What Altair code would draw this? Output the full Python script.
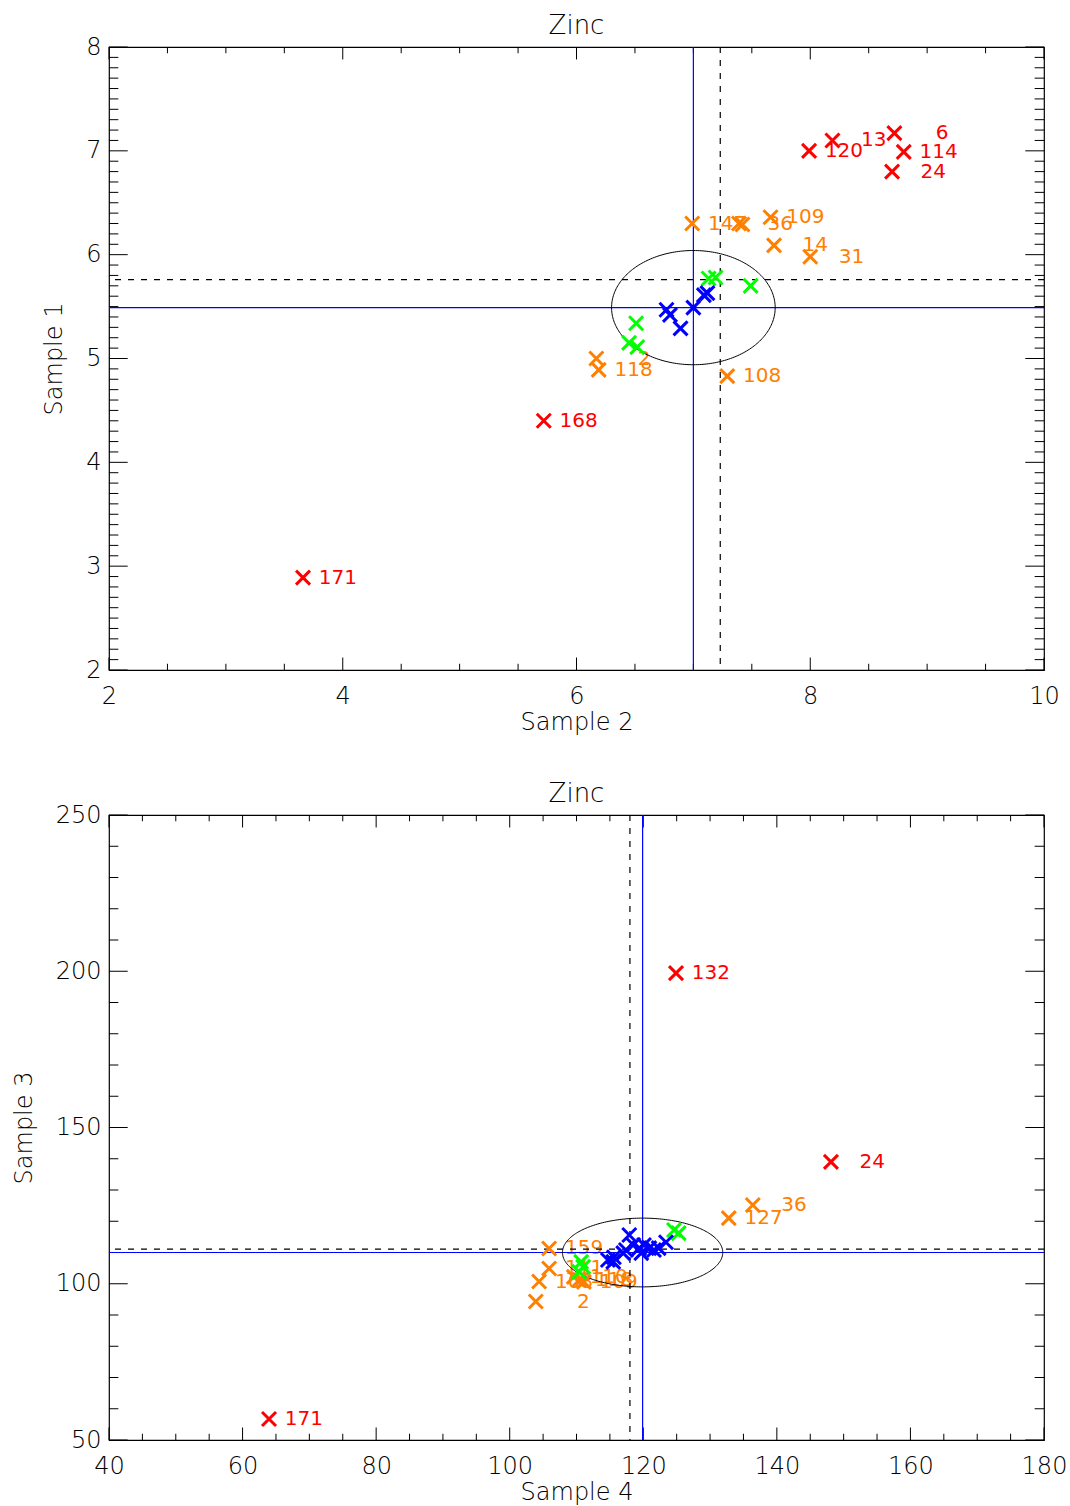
import altair as alt
import numpy as np
import pandas as pd

FONT = "DejaVu Sans"
WEIGHT = 200
GROUPS = ["orange", "green", "blue", "red"]
GROUP_COLORS = ["#ff8000", "#00ff00", "#0000ff", "#ff0000"]
GROUP_WIDTHS = [3.0, 3.0, 4.0, 3.0]

# ---------------- upper panel: Sample 2 (x) against Sample 1 (y) ----------------
up_red_x = [3.66, 5.72, 7.99, 8.19, 8.72, 8.80, 8.70]
up_red_y = [2.89, 4.40, 7.00, 7.10, 7.17, 6.99, 6.80]
up_red_lab = ["171", "168", "120", "13", "6", "114", "24"]

up_orange_x = [6.99, 7.39, 7.42, 7.66, 7.69, 8.00, 6.17, 6.19, 7.29]
up_orange_y = [6.30, 6.30, 6.29, 6.36, 6.09, 5.98, 5.00, 4.89, 4.83]
up_orange_lab = ["147", "36", "", "109", "14", "31", "2", "118", "108"]

up_green_x = [7.13, 7.19, 7.49, 6.51, 6.45, 6.52]
up_green_y = [5.77, 5.78, 5.70, 5.34, 5.15, 5.11]

up_blue_x = [6.77, 6.80, 6.89, 7.00, 7.09, 7.12]
up_blue_y = [5.47, 5.42, 5.29, 5.49, 5.61, 5.63]

up_center = (7.00, 5.49)      # solid blue cross-hair and ellipse centre
up_radii = (0.70, 0.55)
up_ref = (7.23, 5.76)         # dashed reference lines

up_xdom, up_ydom = [2, 10], [2, 8]
up_xmajor, up_xminor = [2, 4, 6, 8, 10], [2.5, 3, 3.5, 4.5, 5, 5.5, 6.5, 7, 7.5, 8.5, 9, 9.5]
up_ymajor = [2, 3, 4, 5, 6, 7, 8]
up_yminor = [round(2 + 0.1 * i, 1) for i in range(61) if i % 10]

# ---------------- lower panel: Sample 4 (x) against Sample 3 (y) ----------------
lo_red_x = [63.96, 124.9, 148.1]
lo_red_y = [56.7, 199.4, 139.0]
lo_red_lab = ["171", "132", "24"]

lo_orange_x = [105.9, 105.9, 104.4, 103.9, 109.6, 110.4, 111.1, 132.8, 136.4]
lo_orange_y = [111.3, 104.9, 100.7, 94.3, 102.2, 101.2, 100.6, 121.0, 125.2]
lo_orange_lab = ["159", "111", "108", "2", "110", "118", "109", "127", "36"]

lo_green_x = [110.7, 111.0, 110.4, 124.6, 125.3]
lo_green_y = [107.0, 105.4, 103.8, 117.2, 116.2]

lo_blue_x = [117.9, 118.5, 117.4, 117.0, 115.6, 114.7, 115.5, 119.4, 120.1, 120.9, 121.6, 122.3, 123.4, 119.7]
lo_blue_y = [115.6, 112.4, 110.8, 109.8, 108.5, 107.6, 107.0, 111.4, 112.4, 111.4, 110.8, 111.4, 113.3, 109.8]

lo_center = (119.9, 110.0)
lo_radii = (12.0, 11.0)
lo_ref = (118.0, 111.1)

lo_xdom, lo_ydom = [40, 180], [50, 250]
lo_xmajor = list(range(40, 181, 20))
lo_xminor = [v for v in range(40, 181, 5) if v % 20]
lo_ymajor = [50, 100, 150, 200, 250]
lo_yminor = [v for v in range(50, 251, 10) if v % 50]


def points_frame(red, orange, green, blue):
    rows = []
    for grp, (xs, ys, labs) in zip(GROUPS, [orange, green, blue, red]):
        if labs is None:
            labs = [""] * len(xs)
        for x, y, lab in zip(xs, ys, labs):
            rows.append({"x": x, "y": y, "grp": grp, "lab": lab})
    return pd.DataFrame(rows)


def ellipse_frame(center, radii, n=241):
    t = np.linspace(0, 2 * np.pi, n)
    return pd.DataFrame({
        "x": center[0] + radii[0] * np.cos(t),
        "y": center[1] + radii[1] * np.sin(t),
        "k": np.arange(n),
    })


def panel(df, xdom, ydom, xmajor, xminor, ymajor, yminor, xtitle, ytitle,
          center, radii, ref, W, H):
    xsc = alt.Scale(domain=xdom, nice=False, zero=False)
    ysc = alt.Scale(domain=ydom, nice=False, zero=False)
    color = alt.Color("grp:N", scale=alt.Scale(domain=GROUPS, range=GROUP_COLORS), legend=None)

    x_axis = alt.Axis(values=xmajor, format="d", ticks=False, domain=False, grid=False,
                      title=xtitle, labelFont=FONT, labelFontSize=24, labelFontWeight=WEIGHT,
                      labelColor="black", labelPadding=14, labelOverlap=False, labelFlush=False,
                      titleFont=FONT, titleFontSize=24, titleFontWeight=WEIGHT,
                      titleColor="black", titlePadding=2)
    y_axis = alt.Axis(values=ymajor, format="d", ticks=False, domain=False, grid=False,
                      title=ytitle, labelFont=FONT, labelFontSize=24, labelFontWeight=WEIGHT,
                      labelColor="black", labelPadding=8, labelOverlap=False, labelFlush=False,
                      titleFont=FONT, titleFontSize=24, titleFontWeight=WEIGHT,
                      titleColor="black", titlePadding=19)

    base = alt.Chart(df)
    labels = base.mark_text(align="right", baseline="middle", dx=54, font=FONT,
                            fontSize=20).encode(
        x=alt.X("x:Q", scale=xsc, axis=x_axis),
        y=alt.Y("y:Q", scale=ysc, axis=y_axis),
        text="lab:N",
        color=color,
    )
    marks = base.mark_point(shape="M-1,-1L1,1M-1,1L1,-1", filled=False, size=196, opacity=1).encode(
        x=alt.X("x:Q", scale=xsc),
        y=alt.Y("y:Q", scale=ysc),
        color=color,
        strokeWidth=alt.StrokeWidth("grp:N", scale=alt.Scale(domain=GROUPS, range=GROUP_WIDTHS),
                                    legend=None),
    )

    ell = alt.Chart(ellipse_frame(center, radii)).mark_line(color="black", strokeWidth=1).encode(
        x=alt.X("x:Q", scale=xsc), y=alt.Y("y:Q", scale=ysc), order="k:Q")

    vline = alt.Chart(pd.DataFrame({"v": [center[0]]})).mark_rule(color="#0000ff", strokeWidth=1.2).encode(
        x=alt.X("v:Q", scale=xsc))
    hline = alt.Chart(pd.DataFrame({"v": [center[1]]})).mark_rule(color="#0000ff", strokeWidth=1.2).encode(
        y=alt.Y("v:Q", scale=ysc))
    vdash = alt.Chart(pd.DataFrame({"v": [ref[0]]})).mark_rule(color="black", strokeWidth=1.2,
                                                               strokeDash=[6, 7]).encode(
        x=alt.X("v:Q", scale=xsc))
    hdash = alt.Chart(pd.DataFrame({"v": [ref[1]]})).mark_rule(color="black", strokeWidth=1.2,
                                                               strokeDash=[6, 7]).encode(
        y=alt.Y("v:Q", scale=ysc))

    # inward ticks on all four sides (IDL-style box axes)
    xlen_major, xlen_minor = 0.02 * H, 0.01 * H
    ylen_major, ylen_minor = 0.02 * W, 0.01 * W
    tick_layers = []
    for vals, ln in [(xmajor, xlen_major), (xminor, xlen_minor)]:
        d = alt.Chart(pd.DataFrame({"v": vals}))
        tick_layers.append(d.mark_rule(color="black", strokeWidth=1).encode(
            x=alt.X("v:Q", scale=xsc), y=alt.value(0), y2=alt.value(ln)))
        tick_layers.append(d.mark_rule(color="black", strokeWidth=1).encode(
            x=alt.X("v:Q", scale=xsc), y=alt.value(H), y2=alt.value(H - ln)))
    for vals, ln in [(ymajor, ylen_major), (yminor, ylen_minor)]:
        d = alt.Chart(pd.DataFrame({"v": vals}))
        tick_layers.append(d.mark_rule(color="black", strokeWidth=1).encode(
            y=alt.Y("v:Q", scale=ysc), x=alt.value(0), x2=alt.value(ln)))
        tick_layers.append(d.mark_rule(color="black", strokeWidth=1).encode(
            y=alt.Y("v:Q", scale=ysc), x=alt.value(W), x2=alt.value(W - ln)))

    return alt.layer(labels, *tick_layers, vline, hline, vdash, hdash, ell, marks).properties(
        width=W, height=H,
        title=alt.TitleParams("Zinc", font=FONT, fontSize=26, fontWeight=WEIGHT,
                              color="black", anchor="middle", offset=-4),
    )


upper = panel(points_frame((up_red_x, up_red_y, up_red_lab),
                           (up_orange_x, up_orange_y, up_orange_lab),
                           (up_green_x, up_green_y, None),
                           (up_blue_x, up_blue_y, None)),
              up_xdom, up_ydom, up_xmajor, up_xminor, up_ymajor, up_yminor,
              "Sample 2", "Sample 1", up_center, up_radii, up_ref, 935, 623)

lower = panel(points_frame((lo_red_x, lo_red_y, lo_red_lab),
                           (lo_orange_x, lo_orange_y, lo_orange_lab),
                           (lo_green_x, lo_green_y, None),
                           (lo_blue_x, lo_blue_y, None)),
              lo_xdom, lo_ydom, lo_xmajor, lo_xminor, lo_ymajor, lo_yminor,
              "Sample 4", "Sample 3", lo_center, lo_radii, lo_ref, 935, 625)

chart = alt.vconcat(upper, lower, spacing=45).properties(
    padding={"left": 11, "top": 12, "right": 0, "bottom": 0},
    background="white",
).configure_view(stroke="black", strokeWidth=1.2)

chart.save("out.html", embed_options={"renderer": "svg", "actions": False})
